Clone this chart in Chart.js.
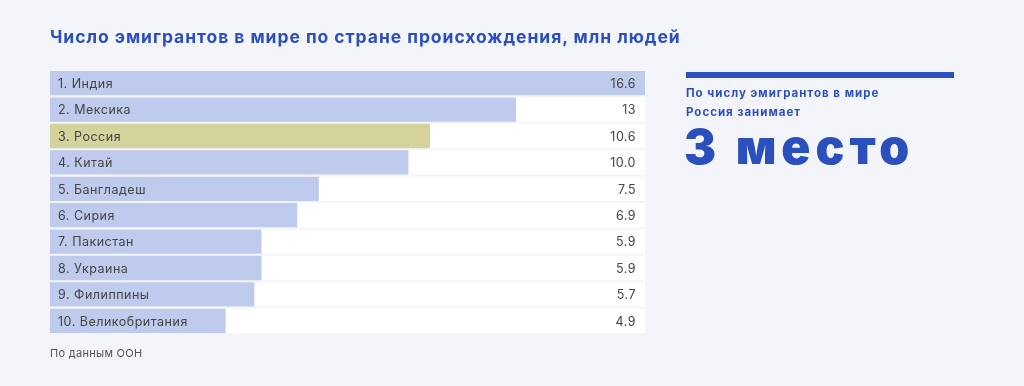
<!DOCTYPE html>
<html>
<head>
<meta charset="utf-8">
<script src="https://cdn.jsdelivr.net/npm/chart.js@4"></script>
<style>
  html, body { margin: 0; padding: 0; background: #f4f5fb; }
  body { width: 1024px; height: 386px; position: relative; overflow: hidden; font-family: Inter, sans-serif; }
  #chart { position: absolute; left: 0; top: 0; }
  .title { position: absolute; left: 50px; top: 26px; font-weight: 700; font-size: 17.5px; color: #2b4fbd; letter-spacing: 0.95px; }
  .note { position: absolute; left: 50px; top: 346px; font-size: 11px; color: #555; letter-spacing: 0.3px; }
  .rule { position: absolute; left: 686px; top: 72px; width: 268px; height: 6px; background: #2b4fbd; }
  .lead { position: absolute; left: 686px; top: 84px; font-weight: 700; font-size: 11.5px; line-height: 19px; color: #2b4fbd; letter-spacing: 1px; }
  .big { position: absolute; left: 684px; top: 117px; font-weight: 900; font-size: 48px; color: #2b4fbd; letter-spacing: 5px; }
</style>
</head>
<body>
<canvas id="chart" width="1024" height="386"></canvas>
<div class="title">Число эмигрантов в мире по стране происхождения, млн людей</div>
<div class="note">По данным ООН</div>
<div class="rule"></div>
<div class="lead">По числу эмигрантов в мире<br>Россия занимает</div>
<div class="big">3 место</div>
<script>
// Define the data
var countries = ["Индия", "Мексика", "Россия", "Китай", "Бангладеш", "Сирия", "Пакистан", "Украина", "Филиппины", "Великобритания"];
var emigrants = [16.6, 13, 10.6, 10.0, 7.5, 6.9, 5.9, 5.9, 5.7, 4.9];
var valueLabels = ["16.6", "13", "10.6", "10.0", "7.5", "6.9", "5.9", "5.9", "5.7", "4.9"];
var highlight = "Россия";
// End Defining data

var labels = countries.map(function (c, i) { return (i + 1) + ". " + c; });
var maxValue = Math.max.apply(null, emigrants);
var track = emigrants.map(function () { return maxValue; }); // white row behind each bar

var barColors = countries.map(function (c) { return c === highlight ? '#d4d39b' : '#bfcbec'; });

// draws the row names on the left and values on the right
var rowText = {
  id: 'rowText',
  afterDatasetsDraw: function (chart) {
    var ctx = chart.ctx;
    var y = chart.scales.y;
    var area = chart.chartArea;
    ctx.save();
    ctx.font = '12.5px Inter, "Open Sans", sans-serif';
    ctx.letterSpacing = '0.5px';
    ctx.fillStyle = '#444';
    ctx.textBaseline = 'middle';
    labels.forEach(function (l, i) {
      var py = y.getPixelForValue(i) + 1;
      ctx.textAlign = 'left';
      ctx.fillText(l, area.left + 8, py);
      ctx.textAlign = 'right';
      ctx.fillText(valueLabels[i], area.right - 9, py);
    });
    ctx.restore();
  }
};

var ctx = document.getElementById("chart").getContext('2d');
var emigrantsChart = new Chart(ctx, {
  type: 'bar',
  data: {
    labels: labels,
    datasets: [{
      label: 'Эмигранты',
      data: emigrants,
      backgroundColor: barColors,
      borderWidth: 0,
      grouped: false,
      order: 0,
      categoryPercentage: 1,
      barPercentage: 0.92
    }, {
      label: 'Фон',
      data: track,
      backgroundColor: '#ffffff',
      borderWidth: 0,
      grouped: false,
      order: 1,
      categoryPercentage: 1,
      barPercentage: 0.92
    }]
  },
  options: {
    indexAxis: 'y',
    responsive: false,
    animation: false,
    layout: { padding: { left: 50, right: 379, top: 70, bottom: 52 } },
    scales: {
      x: { display: false, min: 0, max: maxValue },
      y: { display: false }
    },
    plugins: {
      legend: { display: false },
      tooltip: { enabled: false }
    }
  },
  plugins: [rowText]
});
</script>
</body>
</html>
